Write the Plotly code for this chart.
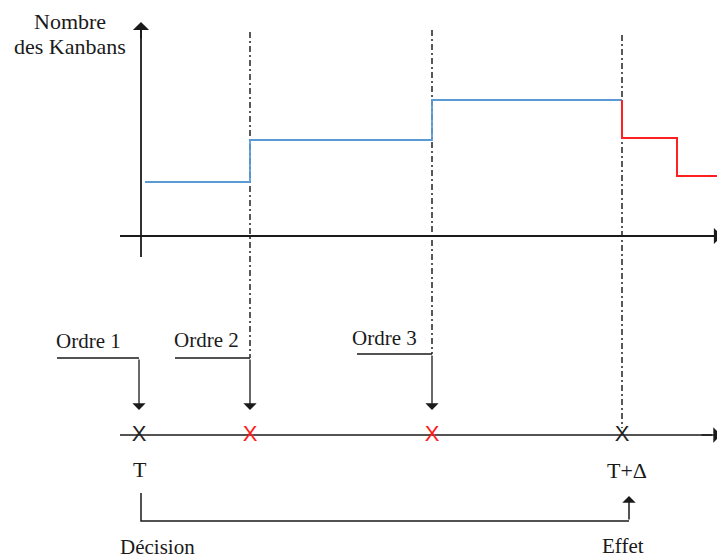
import plotly.graph_objects as go

# ---------------- data (diagram units: x = time position, y = drawing height) ----------------
# Kanban count (upper panel) as a step function
blue_x = [145, 250, 432, 622]
blue_y = [182, 140, 100, 100]
red_x = [622, 622, 677, 725]
red_y = [100, 138, 176, 176]

# time positions of events on the lower time line
event_x = [139, 250, 432, 622]
event_color = ["#222222", "#ff1a1a", "#ff1a1a", "#222222"]
timeline_y = 435

# order arrows: label, label x, label y, start of horizontal stroke, level of stroke
order_labels = ["Ordre 1", "Ordre 2", "Ordre 3"]
order_label_x = [88, 206, 384]
order_label_y = [341, 340, 338]
order_line_start = [57, 175, 357]
order_line_y = [358, 358, 354]
order_target_x = [139, 250, 432]

# dash-dot guide lines: x, top, bottom
guide_x = [250, 432, 622]
guide_top = [32, 30, 35]
guide_bottom = [358, 354, 428]

FONT = "Liberation Serif"
DARK = "#1a1a1a"

fig = go.Figure()

def seg(xs, ys, color=DARK, width=1.5, dash=None, shape="linear"):
    fig.add_trace(go.Scatter(x=xs, y=ys, mode="lines", hoverinfo="skip",
                             line=dict(color=color, width=width, dash=dash, shape=shape),
                             showlegend=False))

def arrow(x0, y0, x1, y1, width=1.5, size=1.3):
    fig.add_annotation(x=x1, y=y1, ax=x0, ay=y0, xref="x", yref="y", axref="x", ayref="y",
                       text="", showarrow=True, arrowhead=1, arrowsize=size,
                       arrowwidth=width, arrowcolor=DARK, standoff=0, startstandoff=0)

# guide lines
for gx, gt, gb in zip(guide_x, guide_top, guide_bottom):
    seg([gx, gx], [gt, gb], color="#222222", width=1.5, dash="6px,3px,2px,3px")

# upper axes
seg([141, 141], [257, 30], width=1.8)
arrow(141, 40, 141, 22, width=1.8, size=1.5)
seg([120, 712], [236, 236], width=1.8)
arrow(700, 236, 722, 236, width=1.8, size=1.5)

# kanban steps
seg(blue_x, blue_y, color="#5B9BD5", width=1.8, shape="hv")
seg(red_x, red_y, color="#ff2020", width=2, shape="hv")

# lower time line
seg([120, 712], [timeline_y, timeline_y], width=1.6)
arrow(700, timeline_y, 721, timeline_y, width=1.6, size=1.6)

# order arrows
for lx, ly, tx in zip(order_line_start, order_line_y, order_target_x):
    seg([lx, tx], [ly, ly], width=1.3)
    arrow(tx, ly, tx, 410, width=1.3, size=1.7)

# event crosses
fig.add_trace(go.Scatter(x=event_x, y=[timeline_y] * 4, mode="text", text=["X"] * 4,
                         textposition="middle center", hoverinfo="skip", showlegend=False,
                         textfont=dict(family="Liberation Sans", size=22, color=event_color)))

# decision -> effect bracket
seg([141, 141, 629], [493, 521, 521], width=1.5)
arrow(629, 521, 629, 496, width=1.5, size=1.5)

# texts
def txt(s, x, y, size=21):
    fig.add_annotation(x=x, y=y, xref="x", yref="y", text=s, showarrow=False,
                       font=dict(family=FONT, size=size, color=DARK), align="center")

txt("Nombre", 70, 21, size=22)
txt("des Kanbans", 70, 46, size=22)
for lab, x, y in zip(order_labels, order_label_x, order_label_y):
    txt(lab, x, y, size=21)
txt("T", 140, 469, size=22)
txt("T+Δ", 627, 470, size=22)
txt("Décision", 157, 547, size=21)
txt("Effet", 623, 546, size=21)

# the page body adds an 8 px offset; shift the ranges so the drawing lands in place
fig.update_layout(width=725, height=559, margin=dict(l=0, r=0, t=0, b=0),
                  plot_bgcolor="white", paper_bgcolor="white",
                  xaxis=dict(range=[8, 733], visible=False, fixedrange=True),
                  yaxis=dict(range=[567, 8], visible=False, fixedrange=True))

fig.write_html("out.html")
